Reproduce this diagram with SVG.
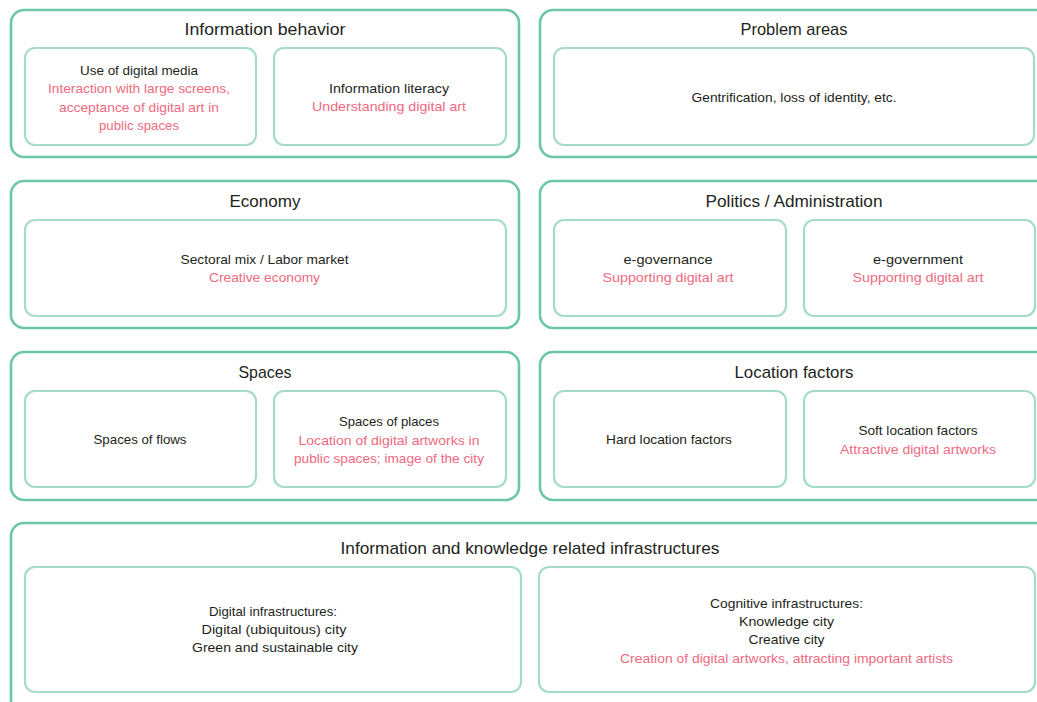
<svg xmlns="http://www.w3.org/2000/svg" width="1037" height="702" viewBox="0 0 1037 702">
<style>
.outer{fill:#ffffff;stroke:#6cc7a7;stroke-width:2.6}
.inner{fill:#ffffff;stroke:#a5dcc8;stroke-width:2.2}
text{font-family:"Liberation Sans",Arial,sans-serif;text-anchor:middle}
.t{font-size:17px;fill:#231f20}
.b{font-size:13px;fill:#231f20}
.r{font-size:13px;fill:#ef6a80}
</style>
<rect width="1037" height="702" fill="#ffffff"/>
<g id="connectors"/>
<g id="information-behavior">
<rect class="outer" x="11" y="10" width="508" height="147" rx="13"/>
<text class="t" x="265" y="35" textLength="161" lengthAdjust="spacingAndGlyphs">Information behavior</text>
<rect class="inner" x="25" y="48" width="231" height="97" rx="10"/>
<text class="b" x="139" y="74.5" textLength="118" lengthAdjust="spacingAndGlyphs">Use of digital media</text>
<text class="r" x="139" y="93" textLength="182" lengthAdjust="spacingAndGlyphs">Interaction with large screens,</text>
<text class="r" x="139" y="111.5" textLength="160" lengthAdjust="spacingAndGlyphs">acceptance of digital art in</text>
<text class="r" x="139" y="130" textLength="80" lengthAdjust="spacingAndGlyphs">public spaces</text>
<rect class="inner" x="274" y="48" width="232" height="97" rx="10"/>
<text class="b" x="389" y="92.5" textLength="120" lengthAdjust="spacingAndGlyphs">Information literacy</text>
<text class="r" x="389" y="111" textLength="154" lengthAdjust="spacingAndGlyphs">Understanding digital art</text>
</g>
<g id="problem-areas">
<rect class="outer" x="540" y="10" width="510" height="147" rx="13"/>
<text class="t" x="794" y="35" textLength="107" lengthAdjust="spacingAndGlyphs">Problem areas</text>
<rect class="inner" x="554" y="48" width="480" height="97" rx="10"/>
<text class="b" x="794" y="101.5" textLength="205" lengthAdjust="spacingAndGlyphs">Gentrification, loss of identity, etc.</text>
</g>
<g id="economy">
<rect class="outer" x="11" y="181" width="508" height="147" rx="13"/>
<text class="t" x="265" y="206.5" textLength="71" lengthAdjust="spacingAndGlyphs">Economy</text>
<rect class="inner" x="25" y="220" width="481" height="96" rx="10"/>
<text class="b" x="264.5" y="264" textLength="168" lengthAdjust="spacingAndGlyphs">Sectoral mix / Labor market</text>
<text class="r" x="264.5" y="282" textLength="111" lengthAdjust="spacingAndGlyphs">Creative economy</text>
</g>
<g id="politics-administration">
<rect class="outer" x="540" y="181" width="510" height="147" rx="13"/>
<text class="t" x="794" y="206.5" textLength="177" lengthAdjust="spacingAndGlyphs">Politics / Administration</text>
<rect class="inner" x="554" y="220" width="232" height="96" rx="10"/>
<text class="b" x="668" y="264" textLength="89" lengthAdjust="spacingAndGlyphs">e-governance</text>
<text class="r" x="668" y="282" textLength="131" lengthAdjust="spacingAndGlyphs">Supporting digital art</text>
<rect class="inner" x="804" y="220" width="231" height="96" rx="10"/>
<text class="b" x="918" y="264" textLength="90" lengthAdjust="spacingAndGlyphs">e-government</text>
<text class="r" x="918" y="282" textLength="131" lengthAdjust="spacingAndGlyphs">Supporting digital art</text>
</g>
<g id="spaces">
<rect class="outer" x="11" y="352" width="508" height="148" rx="13"/>
<text class="t" x="265" y="378" textLength="53" lengthAdjust="spacingAndGlyphs">Spaces</text>
<rect class="inner" x="25" y="391" width="231" height="96" rx="10"/>
<text class="b" x="140" y="444" textLength="93" lengthAdjust="spacingAndGlyphs">Spaces of flows</text>
<rect class="inner" x="274" y="391" width="232" height="96" rx="10"/>
<text class="b" x="389" y="426" textLength="100" lengthAdjust="spacingAndGlyphs">Spaces of places</text>
<text class="r" x="389" y="444.5" textLength="181" lengthAdjust="spacingAndGlyphs">Location of digital artworks in</text>
<text class="r" x="389" y="463" textLength="190" lengthAdjust="spacingAndGlyphs">public spaces; image of the city</text>
</g>
<g id="location-factors">
<rect class="outer" x="540" y="352" width="510" height="148" rx="13"/>
<text class="t" x="794" y="378" textLength="119" lengthAdjust="spacingAndGlyphs">Location factors</text>
<rect class="inner" x="554" y="391" width="232" height="96" rx="10"/>
<text class="b" x="669" y="444" textLength="126" lengthAdjust="spacingAndGlyphs">Hard location factors</text>
<rect class="inner" x="804" y="391" width="231" height="96" rx="10"/>
<text class="b" x="918" y="435" textLength="119" lengthAdjust="spacingAndGlyphs">Soft location factors</text>
<text class="r" x="918" y="454" textLength="156" lengthAdjust="spacingAndGlyphs">Attractive digital artworks</text>
</g>
<g id="infrastructures">
<rect class="outer" x="11" y="523" width="1040" height="190" rx="13"/>
<text class="t" x="530" y="553.5" textLength="379" lengthAdjust="spacingAndGlyphs">Information and knowledge related infrastructures</text>
<rect class="inner" x="25" y="567" width="496" height="125" rx="10"/>
<text class="b" x="273" y="616" textLength="128" lengthAdjust="spacingAndGlyphs">Digital infrastructures:</text>
<text class="b" x="274" y="634" textLength="145" lengthAdjust="spacingAndGlyphs">Digital (ubiquitous) city</text>
<text class="b" x="275" y="652" textLength="166" lengthAdjust="spacingAndGlyphs">Green and sustainable city</text>
<rect class="inner" x="539" y="567" width="496" height="125" rx="10"/>
<text class="b" x="786.5" y="607.5" textLength="153" lengthAdjust="spacingAndGlyphs">Cognitive infrastructures:</text>
<text class="b" x="786.5" y="625.5" textLength="95" lengthAdjust="spacingAndGlyphs">Knowledge city</text>
<text class="b" x="786.5" y="644" textLength="76" lengthAdjust="spacingAndGlyphs">Creative city</text>
<text class="r" x="786.5" y="662.5" textLength="333" lengthAdjust="spacingAndGlyphs">Creation of digital artworks, attracting important artists</text>
</g>
</svg>
